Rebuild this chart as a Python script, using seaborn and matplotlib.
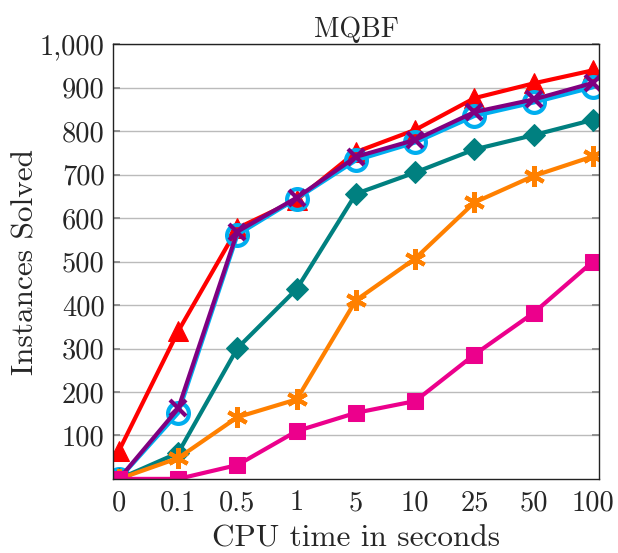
import matplotlib
matplotlib.use("Agg")
import matplotlib.pyplot as plt
import seaborn as sns
import numpy as np
from matplotlib.ticker import FuncFormatter

categories = ["0", "0.1", "0.5", "1", "5", "10", "25", "50", "100"]
red_tri = [65, 340, 577, 642, 752, 803, 876, 910, 940]
cyan_circ = [0, 152, 562, 645, 733, 774, 835, 866, 901]
purple_x = [0, 162, 569, 647, 741, 780, 844, 873, 911]
teal_diam = [0, 60, 301, 437, 656, 705, 758, 791, 826]
orange_star = [0, 48, 142, 183, 411, 507, 636, 697, 742]
magenta_sq = [0, 0, 32, 110, 152, 179, 286, 382, 500]
yticks = [100, 200, 300, 400, 500, 600, 700, 800, 900, 1000]

sns.set_theme(style="white")
plt.rcParams["font.family"] = ["cmr10", "DejaVu Serif"]
plt.rcParams["axes.formatter.use_mathtext"] = True

fig = plt.figure(figsize=(6.18, 5.53), dpi=100)
ax = fig.add_axes([0.183, 0.134, 0.786, 0.786])

x = np.arange(len(categories))
series = [
    (red_tri, "#FF0000", "^", dict(markersize=15)),
    (cyan_circ, "#00AEEF", "o", dict(markersize=15, markerfacecolor="none", markeredgewidth=3)),
    (purple_x, "#800080", "x", dict(markersize=12, markeredgewidth=3)),
    (teal_diam, "#008080", "D", dict(markersize=11)),
    (orange_star, "#FF8000", (6, 2, 0), dict(markersize=15, markeredgewidth=3)),
    (magenta_sq, "#EC008C", "s", dict(markersize=11)),
]
for vals, col, mk, kw in series:
    sns.lineplot(x=x, y=vals, ax=ax, color=col, marker=mk, linewidth=3,
                 markeredgecolor=col, **kw)

ax.set_xlim(-0.1, 8.1)
ax.set_ylim(0, 1000)
ax.set_xticks(x)
ax.set_xticklabels(categories)
ax.set_yticks(yticks)
ax.yaxis.set_major_formatter(FuncFormatter(lambda v, p: f"{int(v):,}"))
ax.yaxis.grid(True, color="#BBBBBB", linewidth=1)
ax.set_axisbelow(True)
ax.tick_params(axis="y", direction="in", length=5, color="#888888", left=True, right=True, labelsize=20.5, pad=6)
ax.tick_params(axis="x", length=0, labelsize=20.5, pad=8)
for s in ax.spines.values():
    s.set_color("#222222")
    s.set_linewidth(1)
ax.set_xlabel("CPU time in seconds", fontsize=22.5, labelpad=6)
ax.set_ylabel("Instances Solved", fontsize=22.5, labelpad=0)
ax.set_title("MQBF", fontsize=20, pad=5)

fig.savefig("out.png", dpi=100)
